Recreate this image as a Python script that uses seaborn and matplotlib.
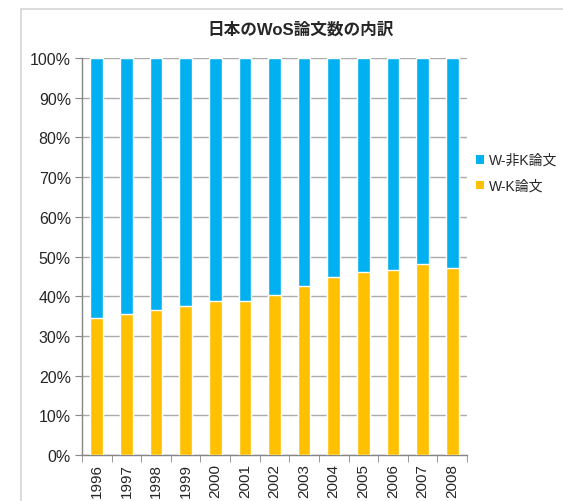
import matplotlib
matplotlib.use("Agg")
import matplotlib.pyplot as plt
import seaborn as sns
import pandas as pd
from matplotlib.patches import Rectangle, Patch
from matplotlib.ticker import FixedLocator, PercentFormatter

years = ["1996", "1997", "1998", "1999", "2000", "2001", "2002",
         "2003", "2004", "2005", "2006", "2007", "2008"]
wk_share = [34.5, 35.6, 36.6, 37.6, 38.9, 38.9, 40.3,
            42.6, 44.9, 46.0, 46.6, 48.0, 47.2]
total_share = [100] * len(years)

labels = ["W-非K論文", "W-K論文"]
colors = ["#00B0F0", "#FFC000"]

sns.set_style("white")
plt.rcParams['font.family'] = ['Liberation Sans', 'Noto Sans CJK JP', 'DejaVu Sans']

df = pd.DataFrame({'year': years, 'wk': wk_share, 'total': total_share})

fig = plt.figure(figsize=(5.63, 5.02), dpi=100)
ax = fig.add_axes([82 / 563, 1 - 456 / 502, (467 - 82) / 563, (456 - 59) / 502])

# outer chart frame
fig.patches.append(Rectangle((21 / 563, -0.05), 1.1, 1 - 10 / 502 + 0.05,
                             transform=fig.transFigure, fill=False,
                             edgecolor="#d4d4d4", linewidth=1.2, zorder=0))

sns.barplot(data=df, x='year', y='total', color=colors[0], width=0.43,
            saturation=1, ax=ax, zorder=3)
sns.barplot(data=df, x='year', y='wk', color=colors[1], width=0.43,
            saturation=1, ax=ax, zorder=4)

ax.set_ylim(0, 100)
ax.set_xlim(-0.5, len(years) - 0.5)
ax.yaxis.set_major_locator(FixedLocator(range(0, 101, 10)))
ax.yaxis.set_major_formatter(PercentFormatter(decimals=0))
ax.grid(axis='y', color="#ababab", linewidth=1, zorder=0)
ax.set_axisbelow(True)

ax.set_xlabel('')
ax.set_ylabel('')
ax.tick_params(axis='x', which='major', length=0, labelrotation=90, labelsize=11, pad=6)
ax.set_xticks([i + 0.5 for i in range(-1, len(years))], minor=True)
ax.tick_params(axis='x', which='minor', length=5, color="#868686", direction='out', bottom=True)
ax.tick_params(axis='y', length=5, color="#868686", direction='out', left=True,
               labelsize=11.5, pad=3)

for side in ['top', 'right']:
    ax.spines[side].set_visible(False)
for side in ['left', 'bottom']:
    ax.spines[side].set_color("#868686")
    ax.spines[side].set_linewidth(1)

handles = [Patch(facecolor=c, edgecolor='none') for c in colors]
fig.legend(handles, labels, loc='upper left', bbox_to_anchor=(476 / 563, 1 - 154 / 502),
           frameon=False, fontsize=10, handlelength=0.6, handleheight=0.6,
           handletextpad=0.3, labelspacing=0.85, borderpad=0, borderaxespad=0)

fig.text(301 / 563, 1 - 30 / 502, "日本のWoS論文数の内訳", ha='center', va='center',
         fontsize=12, fontweight='bold')

plt.savefig('out.png', dpi=100)
